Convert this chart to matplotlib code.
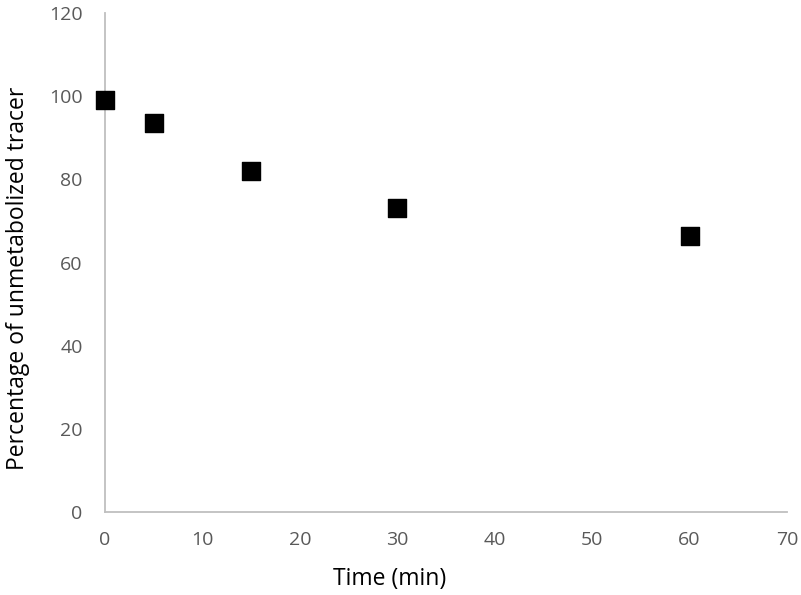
import matplotlib
matplotlib.use("Agg")
import matplotlib.pyplot as plt

# Time after injection (min) and percentage of parent tracer
time_min = [0, 5, 15, 30, 60]
unmetabolized = [99.0, 93.5, 81.9, 73.0, 66.3]

x_ticks = [0, 10, 20, 30, 40, 50, 60, 70]
y_ticks = [0, 20, 40, 60, 80, 100, 120]

plt.rcParams['font.family'] = ['Open Sans', 'DejaVu Sans']

fig = plt.figure(figsize=(8.01, 5.95), dpi=100)
ax = fig.add_axes([0.131, 0.1395, 0.8515, 0.8385])

ax.scatter(time_min, unmetabolized, marker='s', s=13.5**2, color='black',
           zorder=3, clip_on=False)

ax.set_xlim(0, 70)
ax.set_ylim(0, 120)
ax.set_xticks(x_ticks)
ax.set_yticks(y_ticks)

for side in ['top', 'right']:
    ax.spines[side].set_visible(False)
for side in ['left', 'bottom']:
    ax.spines[side].set_color('#bfbfbf')
    ax.spines[side].set_linewidth(1.3)

ax.tick_params(axis='both', length=0, labelsize=14, labelcolor='#595959')
ax.tick_params(axis='y', pad=16)
ax.tick_params(axis='x', pad=14)

ax.set_xlabel("Time (min)", fontsize=16.5, labelpad=13)
ax.set_ylabel("Percentage of unmetabolized tracer", fontsize=16.5, labelpad=14)
# labels sit a little off-centre in the original
ax.xaxis.label.set_x(0.418)
ax.yaxis.label.set_y(0.469)

fig.savefig("out.png", dpi=100)
